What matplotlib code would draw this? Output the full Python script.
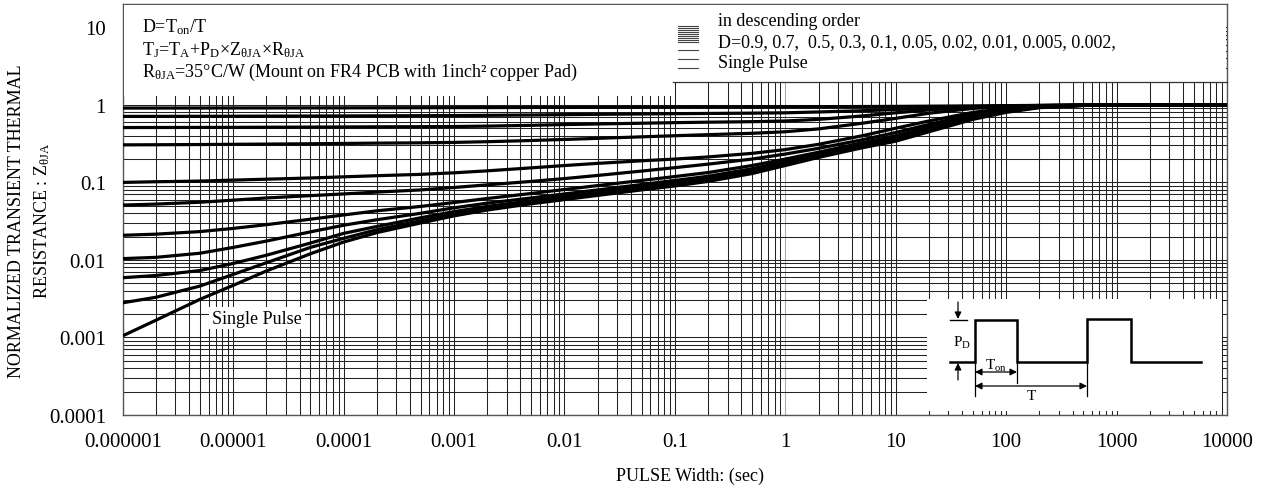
import numpy as np
import matplotlib
matplotlib.use("Agg")
import matplotlib.pyplot as plt
from matplotlib.ticker import LogLocator, FixedLocator, NullFormatter
from matplotlib.patches import Rectangle

plt.rcParams['font.family'] = ['Liberation Serif', 'DejaVu Serif']
plt.rcParams['mathtext.fontset'] = 'custom'
plt.rcParams['mathtext.rm'] = 'Liberation Serif'
plt.rcParams['mathtext.it'] = 'Liberation Serif:italic'
plt.rcParams['mathtext.bf'] = 'Liberation Serif:bold'

# ---------------- data ----------------
pulse_width = [1e-6, 2e-6, 5e-6, 1e-5, 2e-5, 5e-5, 1e-4, 2e-4, 5e-4,
               1e-3, 2e-3, 5e-3, 1e-2, 2e-2, 5e-2, 0.1, 0.2, 0.5,
               1, 2, 5, 10, 20, 50, 100, 200, 500, 1000, 2000, 5000, 10000]

z_d090 = [0.910, 0.910, 0.911, 0.912, 0.913, 0.914, 0.915, 0.917, 0.919,
          0.921, 0.923, 0.926, 0.929, 0.932, 0.935, 0.938, 0.940, 0.942,
          0.945, 0.948, 0.952, 0.956, 0.962, 0.970, 0.977, 0.985, 0.995, 1.0, 1.0, 1.0, 1.0]
z_d070 = [0.710, 0.711, 0.712, 0.714, 0.716, 0.718, 0.720, 0.722, 0.725,
          0.728, 0.733, 0.740, 0.748, 0.755, 0.763, 0.770, 0.775, 0.782,
          0.790, 0.810, 0.840, 0.870, 0.910, 0.950, 0.970, 0.982, 0.995, 1.0, 1.0, 1.0, 1.0]
z_d050 = [0.510, 0.511, 0.512, 0.513, 0.515, 0.517, 0.519, 0.521, 0.523,
          0.526, 0.532, 0.545, 0.557, 0.567, 0.580, 0.590, 0.598, 0.607,
          0.620, 0.650, 0.720, 0.790, 0.860, 0.940, 0.965, 0.980, 0.995, 1.0, 1.0, 1.0, 1.0]
z_d030 = [0.305, 0.306, 0.308, 0.310, 0.312, 0.315, 0.318, 0.321, 0.324,
          0.328, 0.335, 0.347, 0.358, 0.370, 0.387, 0.400, 0.413, 0.430,
          0.450, 0.490, 0.580, 0.670, 0.780, 0.900, 0.950, 0.975, 0.993, 1.0, 1.0, 1.0, 1.0]
z_d010 = [0.100, 0.102, 0.104, 0.107, 0.110, 0.114, 0.118, 0.122, 0.127,
          0.133, 0.141, 0.154, 0.165, 0.176, 0.190, 0.200, 0.213, 0.237,
          0.265, 0.310, 0.400, 0.500, 0.620, 0.800, 0.900, 0.955, 0.990, 1.0, 1.0, 1.0, 1.0]
z_d005 = [0.051, 0.0525, 0.0555, 0.059, 0.063, 0.0675, 0.071, 0.075, 0.080,
          0.086, 0.093, 0.103, 0.112, 0.123, 0.140, 0.155, 0.172, 0.200,
          0.232, 0.275, 0.355, 0.440, 0.560, 0.750, 0.880, 0.950, 0.988, 1.0, 1.0, 1.0, 1.0]
z_d002 = [0.0208, 0.0215, 0.0232, 0.0255, 0.0285, 0.0335, 0.038, 0.043, 0.049,
          0.055, 0.062, 0.072, 0.081, 0.091, 0.106, 0.119, 0.134, 0.165,
          0.200, 0.245, 0.325, 0.400, 0.520, 0.720, 0.860, 0.945, 0.987, 1.0, 1.0, 1.0, 1.0]
z_d001 = [0.0104, 0.0108, 0.0122, 0.0145, 0.0175, 0.023, 0.028, 0.033, 0.040,
          0.047, 0.054, 0.063, 0.071, 0.080, 0.094, 0.106, 0.120, 0.150,
          0.187, 0.232, 0.310, 0.380, 0.500, 0.700, 0.850, 0.940, 0.986, 1.0, 1.0, 1.0, 1.0]
z_d0005 = [0.0059, 0.0063, 0.0073, 0.0090, 0.0115, 0.0165, 0.022, 0.027, 0.035,
           0.042, 0.049, 0.058, 0.066, 0.074, 0.088, 0.099, 0.113, 0.142,
           0.178, 0.222, 0.300, 0.370, 0.490, 0.690, 0.840, 0.935, 0.985, 1.0, 1.0, 1.0, 1.0]
z_d0002 = [0.0028, 0.0033, 0.0046, 0.0065, 0.0092, 0.0145, 0.019, 0.0245, 0.032,
           0.039, 0.046, 0.055, 0.063, 0.071, 0.084, 0.095, 0.108, 0.136,
           0.172, 0.215, 0.290, 0.355, 0.470, 0.670, 0.820, 0.930, 0.985, 1.0, 1.0, 1.0, 1.0]
z_single = [0.00105, 0.00167, 0.0031, 0.0047, 0.0072, 0.0120, 0.0170, 0.0225, 0.030,
            0.037, 0.044, 0.053, 0.060, 0.068, 0.080, 0.090, 0.103, 0.130,
            0.165, 0.210, 0.280, 0.340, 0.450, 0.650, 0.800, 0.920, 0.983, 1.0, 1.0, 1.0, 1.0]

curves = [z_d090, z_d070, z_d050, z_d030, z_d010, z_d005, z_d002, z_d001,
          z_d0005, z_d0002, z_single]

x_ticks = [1e-6, 1e-5, 1e-4, 1e-3, 1e-2, 1e-1, 1, 10, 100, 1000, 10000]
x_tick_labels = ['0.000001', '0.00001', '0.0001', '0.001', '0.01', '0.1',
                 '1', '10', '100', '1000', '10000']
y_ticks = [1e-4, 1e-3, 1e-2, 1e-1, 1, 10]
y_tick_labels = ['0.0001', '0.001', '0.01', '0.1', '1', '10']

# ---------------- figure ----------------
W, H = 1266, 489
fig = plt.figure(figsize=(W / 100, H / 100), dpi=100)
L, R, T, B = 122.7, 1227, 5, 416
ax = fig.add_axes([L / W, (H - B) / H, (R - L) / W, (B - T) / H])
ax.set_xscale('log')
ax.set_yscale('log')
ax.set_xlim(1e-6, 1e4)
ax.set_ylim(1e-4, 20)

ax.xaxis.set_major_locator(FixedLocator(x_ticks))
ax.set_xticklabels(x_tick_labels)
ax.yaxis.set_major_locator(FixedLocator(y_ticks))
ax.set_yticklabels(y_tick_labels)
ax.xaxis.set_minor_locator(LogLocator(base=10, subs=np.arange(2, 10), numticks=100))
ax.yaxis.set_minor_locator(LogLocator(base=10, subs=np.arange(2, 10), numticks=100))
ax.xaxis.set_minor_formatter(NullFormatter())
ax.yaxis.set_minor_formatter(NullFormatter())
ax.tick_params(which='both', length=0, labelsize=15)
ax.tick_params(axis='x', pad=12)
ax.tick_params(axis='y', pad=12)

ax.set_axisbelow(True)
ax.grid(True, which='both', color='#222222', linewidth=0.75)
# the x = 1 line is lighter in the reference
for xv, gl in zip(x_ticks, ax.xaxis.get_gridlines()):
    if xv == 1:
        gl.set_color('#aaaaaa')

for sp in ax.spines.values():
    sp.set_color('#555555')
    sp.set_linewidth(1.0)

for zc in curves:
    ax.plot(pulse_width, zc, color='black', linewidth=2.3,
            solid_joinstyle='round', solid_capstyle='butt', zorder=3)

# ---------------- overlay (pixel coords) ----------------
ov = fig.add_axes([0, 0, 1, 1], zorder=5)
ov.set_xlim(0, W)
ov.set_ylim(H, 0)
ov.axis('off')
ov.patch.set_alpha(0)

# white boxes
ov.add_patch(Rectangle((L + 1, T + 1), 673 - L - 1, 97 - T - 1, facecolor='white',
                       edgecolor='none'))
ov.add_patch(Rectangle((673, T + 1), R - 673 - 1, 82.5 - T - 1, facecolor='white',
                       edgecolor='none'))
ov.plot([673, R], [82.5, 82.5], color='#333333', linewidth=0.9)
ov.add_patch(Rectangle((927, 300), 1222 - 927, 412 - 300, facecolor='white',
                       edgecolor='none'))

# top-left text
tfs = 13
ov.text(142, 27, r'D=T$_{\mathrm{on}}$/T', fontsize=tfs, va='center', ha='left')
ov.text(142, 50, r'T$_{\mathrm{J}}$=T$_{\mathrm{A}}$+P$_{\mathrm{D}}$×Z$_{\mathrm{θJA}}$×R$_{\mathrm{θJA}}$',
        fontsize=tfs, va='center', ha='left')
ov.text(142, 72, r'R$_{\mathrm{θJA}}$=35°C/W (Mount on FR4 PCB with 1inch² copper Pad)',
        fontsize=tfs, va='center', ha='left')

# legend-like text on the right
ov.text(718, 21, 'in descending order', fontsize=tfs, va='center', ha='left')
ov.text(718, 43, 'D=0.9, 0.7,  0.5, 0.3, 0.1, 0.05, 0.02, 0.01, 0.005, 0.002,',
        fontsize=tfs, va='center', ha='left')
ov.text(718, 64, 'Single Pulse', fontsize=tfs, va='center', ha='left')
legend_line_y = [27, 29, 31, 33, 35, 37, 39, 41, 43, 51, 60, 69]
for yy in legend_line_y:
    ov.plot([678, 698], [yy, yy], color='#444444', linewidth=0.8)

# Single Pulse label
ov.text(257, 319, 'Single Pulse', fontsize=13, va='center', ha='center',
        bbox=dict(facecolor='white', edgecolor='none', pad=2))

# axis labels
ov.text(17, 221, 'NORMALIZED TRANSIENT THERMAL', fontsize=13, rotation=90,
        va='center', ha='center')
ov.text(42, 221, r'RESISTANCE : Z$_{\mathrm{θJA}}$', fontsize=13, rotation=90,
        va='center', ha='center')
ov.text(690, 476, 'PULSE Width: (sec)', fontsize=13, va='center', ha='center')

# pulse schematic
wave_x = [950, 975, 975, 1017, 1017, 1087, 1087, 1131, 1131, 1201]
wave_y = [363, 363, 321, 321, 363, 363, 320, 320, 363, 363]
ov.plot(wave_x, wave_y, color='black', linewidth=1.8, solid_joinstyle='miter')
ov.plot([950, 967], [321, 321], color='black', linewidth=1.0)
ov.plot([975, 975], [363, 397], color='black', linewidth=0.9)
ov.plot([1017, 1017], [363, 384], color='black', linewidth=0.9)
ov.plot([1087, 1087], [363, 397], color='black', linewidth=0.9)
arrow_kw = dict(color='black', lw=0.9, shrinkA=0, shrinkB=0, mutation_scale=10)
ov.annotate('', xy=(958, 320), xytext=(958, 303),
            arrowprops=dict(arrowstyle='-|>', **arrow_kw))
ov.annotate('', xy=(958, 364), xytext=(958, 381),
            arrowprops=dict(arrowstyle='-|>', **arrow_kw))
ov.annotate('', xy=(975, 373), xytext=(1017, 373),
            arrowprops=dict(arrowstyle='<|-|>', **arrow_kw))
ov.annotate('', xy=(975, 387), xytext=(1087, 387),
            arrowprops=dict(arrowstyle='<|-|>', **arrow_kw))
ov.text(962, 343, r'P$_{\mathrm{D}}$', fontsize=11, va='center', ha='center')
ov.text(996, 366, r'T$_{\mathrm{on}}$', fontsize=11, va='center', ha='center')
ov.text(1031, 397, 'T', fontsize=11, va='center', ha='center')

fig.savefig('out.png', dpi=100)
